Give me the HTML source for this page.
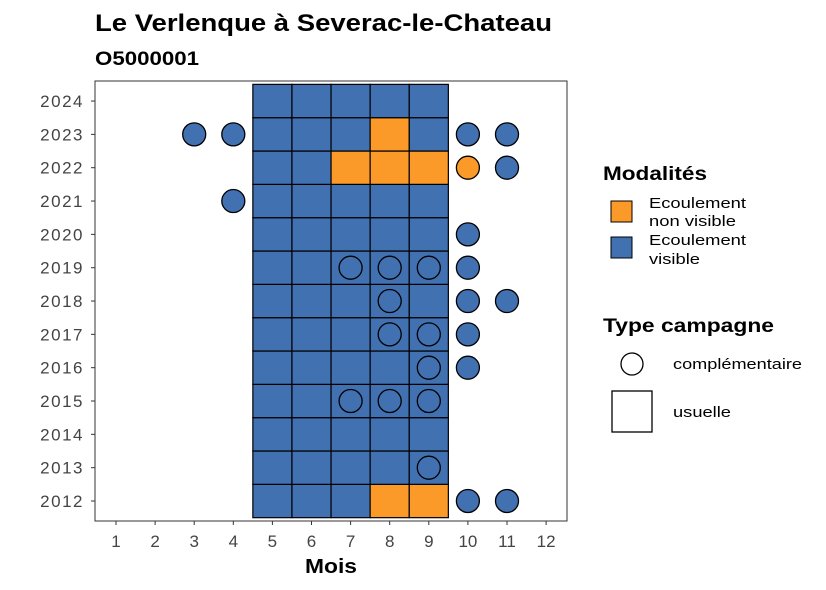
<!DOCTYPE html>
<html><head><meta charset="utf-8">
<style>
body{margin:0;background:#fff;}
svg{display:block;font-family:"Liberation Sans",sans-serif;}
</style></head>
<body>
<svg id="chart" width="826" height="590">
<text x="95" y="31" font-size="24" font-weight="bold" fill="#000" textLength="457" lengthAdjust="spacingAndGlyphs">Le Verlenque à Severac-le-Chateau</text>
<text x="95" y="65" font-size="19" font-weight="bold" fill="#000" textLength="104" lengthAdjust="spacingAndGlyphs">O5000001</text>
<g id="plot"></g>
<text x="331" y="573" font-size="20" font-weight="bold" text-anchor="middle" textLength="52" lengthAdjust="spacingAndGlyphs">Mois</text>
<g>
<text x="603" y="180" font-size="19" font-weight="bold" textLength="104" lengthAdjust="spacingAndGlyphs">Modalités</text>
<rect x="611" y="201" width="21" height="21" fill="#FB9A29" stroke="#000"/>
<text x="649" y="208" font-size="15"><tspan x="649" textLength="97" lengthAdjust="spacingAndGlyphs">Ecoulement</tspan><tspan x="649" dy="18" textLength="87" lengthAdjust="spacingAndGlyphs">non visible</tspan></text>
<rect x="611" y="237" width="21" height="21" fill="#4271B1" stroke="#000"/>
<text x="649" y="245" font-size="15"><tspan x="649" textLength="97" lengthAdjust="spacingAndGlyphs">Ecoulement</tspan><tspan x="649" dy="19" textLength="51" lengthAdjust="spacingAndGlyphs">visible</tspan></text>
<text x="603" y="332" font-size="19" font-weight="bold" textLength="171" lengthAdjust="spacingAndGlyphs">Type campagne</text>
<circle cx="632" cy="364" r="11" fill="none" stroke="#000" stroke-width="1.3"/>
<text x="673" y="369" font-size="15" textLength="129" lengthAdjust="spacingAndGlyphs">complémentaire</text>
<rect x="612" y="391" width="40" height="41" fill="none" stroke="#000" stroke-width="1.3"/>
<text x="673" y="417" font-size="15" textLength="58" lengthAdjust="spacingAndGlyphs">usuelle</text>
</g>
</svg>
<script>
const months = [1,2,3,4,5,6,7,8,9,10,11,12];
const years = [2012,2013,2014,2015,2016,2017,2018,2019,2020,2021,2022,2023,2024];
const tileMonths = [5,6,7,8,9];
const orangeTiles = [[8,2023],[7,2022],[8,2022],[9,2022],[8,2012],[9,2012]];
// complementary campaigns: [month, year, modality] (1 visible, 0 non visible)
const circles = [
[3,2023,1],[4,2023,1],[10,2023,1],[11,2023,1],
[10,2022,0],[11,2022,1],
[4,2021,1],
[10,2020,1],
[7,2019,1],[8,2019,1],[9,2019,1],[10,2019,1],
[8,2018,1],[10,2018,1],[11,2018,1],
[8,2017,1],[9,2017,1],[10,2017,1],
[9,2016,1],[10,2016,1],
[7,2015,1],[8,2015,1],[9,2015,1],
[9,2013,1],
[10,2012,1],[11,2012,1]
];
const NS="http://www.w3.org/2000/svg";
const g=document.getElementById('plot');
const X=m=>116+(m-1)*39.1;
const Y=y=>501-(y-2012)*33.33;
const BLUE="#4271B1", ORANGE="#FB9A29";
function mk(tag,attrs){const e=document.createElementNS(NS,tag);for(const k in attrs)e.setAttribute(k,attrs[k]);g.appendChild(e);return e;}
const panel=mk('rect',{x:95,y:81,width:472,height:440,fill:'#fff',stroke:'#333','stroke-width':1});


years.forEach(y=>{tileMonths.forEach(m=>{
  const isO=orangeTiles.some(t=>t[0]===m&&t[1]===y);
  const r=mk('rect',{x:X(m)-19.55,y:Y(y)-16.67,width:39.1,height:33.33,fill:isO?ORANGE:BLUE,stroke:'#000','stroke-width':1.2});
  
  
});});
circles.forEach(c=>{
  const e=mk('circle',{cx:X(c[0]),cy:Y(c[1]),r:11.5,fill:c[2]?BLUE:ORANGE,stroke:'#000','stroke-width':1.3});
  
  
});
months.forEach(m=>{
  mk('line',{x1:X(m),x2:X(m),y1:521,y2:525,stroke:'#333'});
  const t=mk('text',{x:X(m),y:547,'font-size':17,'text-anchor':'middle',fill:'#444'});
  t.textContent=m;
  
  
});
years.forEach(y=>{
  mk('line',{x1:91,x2:95,y1:Y(y),y2:Y(y),stroke:'#333'});
  const t=mk('text',{x:84,y:Y(y)+6,'font-size':17,'text-anchor':'end',fill:'#444','letter-spacing':'1.5'});
  t.textContent=y;
  
  
});
</script>
</body></html>
